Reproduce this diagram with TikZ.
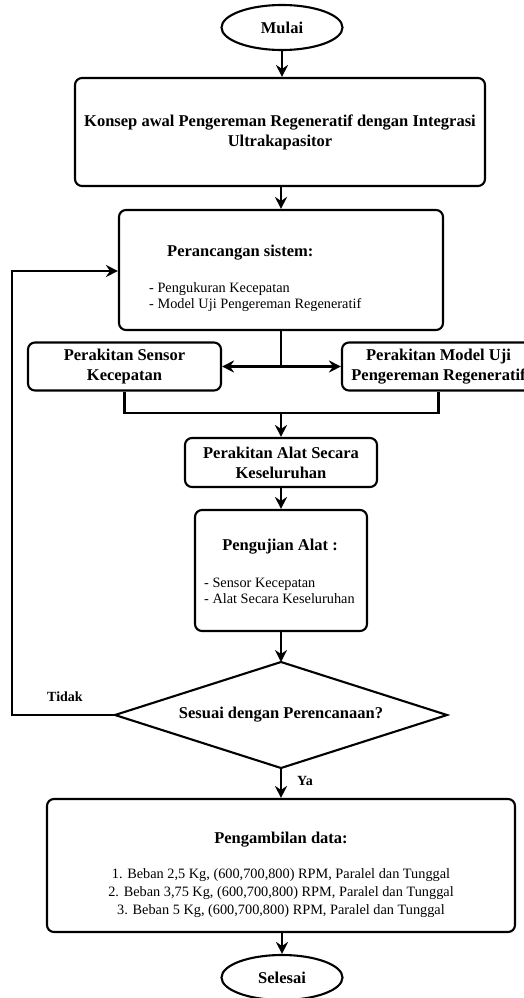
\documentclass[tikz,border=0pt]{standalone}
\usepackage{fontspec}
\setmainfont{Liberation Serif}
\usetikzlibrary{shapes.geometric,arrows.meta}
\tikzset{
  box/.style={draw,line width=2.1pt,rounded corners=7pt,inner sep=0pt,align=center,font=\fontsize{16.5}{20}\selectfont\bfseries},
  term/.style={draw,ellipse,line width=2.1pt,inner sep=0pt,minimum width=121pt,minimum height=45pt,font=\fontsize{16.5}{20}\selectfont\bfseries},
  ttl/.style={inner sep=0pt,font=\fontsize{16.5}{20}\selectfont\bfseries},
  lst/.style={inner sep=0pt,align=left,font=\fontsize{14.3}{15.5}\selectfont},
  lbl/.style={inner sep=0pt,font=\fontsize{14}{16}\selectfont\bfseries},
  conn/.style={line width=2.1pt},
  arr/.style={line width=2.1pt,-{Stealth[length=12pt,width=12pt,inset=4pt]}}
}
\begin{document}
\begin{tikzpicture}[x=1pt,y=-1pt]
\useasboundingbox (0,0) rectangle (524,998);
\clip (0,0) rectangle (524,998);
\node[term] (mulai) at (282,27.5) {Mulai};
\node[box,minimum width=410pt,minimum height=108pt] (konsep) at (280,132) {Konsep awal Pengereman Regeneratif dengan Integrasi\\Ultrakapasitor};
\node[box,minimum width=324pt,minimum height=120pt] (pr) at (281,270) {};
\node[ttl,anchor=west] (prt) at (167,253) {Perancangan sistem:};
\node[lst,anchor=west] (prl) at (149,297) {- Pengukuran Kecepatan\\- Model Uji Pengereman Regeneratif};
\node[box,minimum width=193pt,minimum height=48pt] (sensor) at (124.5,366.5) {Perakitan Sensor\\Kecepatan};
\node[box,minimum width=193pt,minimum height=48pt] (model) at (438.5,366.5) {Perakitan Model Uji\\Pengereman Regeneratif};
\node[box,minimum width=192pt,minimum height=49pt] (alat) at (281,462.5) {Perakitan Alat Secara\\Keseluruhan};
\node[box,minimum width=172pt,minimum height=121pt] (uji) at (281,570.5) {};
\node[ttl] (ujit) at (280,547) {Pengujian Alat :};
\node[lst,anchor=west] (ujil) at (204,591) {- Sensor Kecepatan\\- Alat Secara Keseluruhan};
\coordinate (dt) at (281,662);
\coordinate (dr) at (447,715);
\coordinate (db) at (281,768);
\coordinate (dl) at (115,715);
\draw[conn,line join=miter] (dt) -- (dr) -- (db) -- (dl) -- cycle;
\node[ttl] (sesuai) at (281,715) {Sesuai dengan Perencanaan?};
\node[box,minimum width=468pt,minimum height=133pt] (data) at (281,865.5) {};
\node[ttl] (datat) at (281,840) {Pengambilan data:};
\node[lst,align=center,font=\fontsize{14.3}{18}\selectfont] (datal) at (281,893) {1. Beban 2,5 Kg, (600,700,800) RPM, Paralel dan Tunggal\\2. Beban 3,75 Kg, (600,700,800) RPM, Paralel dan Tunggal\\3. Beban 5 Kg, (600,700,800) RPM, Paralel dan Tunggal};
\node[term] (selesai) at (282,977.5) {Selesai};
\node[lbl] (tidak) at (65,697) {Tidak};
\node[lbl] (ya) at (305,781) {Ya};
\coordinate (br) at (281,366.5);
\coordinate (jn) at (281,413);
\coordinate (la) at (12,715);
\coordinate (lb) at (12,271);
\draw[arr] (mulai) -- (mulai.south |- konsep.north);
\draw[arr] (konsep.south -| pr.north) -- (pr.north);
\draw[conn] (pr.south) -- (br);
\draw[arr] (br) -- (sensor.east);
\draw[arr] (br) -- (model.west);
\draw[conn] (sensor.south) -- (sensor.south |- jn) -- (model.south |- jn) -- (model.south);
\draw[arr] (jn) -- (alat.north);
\draw[arr] (alat.south) -- (uji.north);
\draw[arr] (uji.south) -- (dt);
\draw[arr] (dl) -- (la) -- (lb) -- (lb -| pr.west);
\draw[arr] (db) -- (data.north);
\draw[arr] (data.south -| selesai.north) -- (selesai.north);
\end{tikzpicture}
\end{document}
